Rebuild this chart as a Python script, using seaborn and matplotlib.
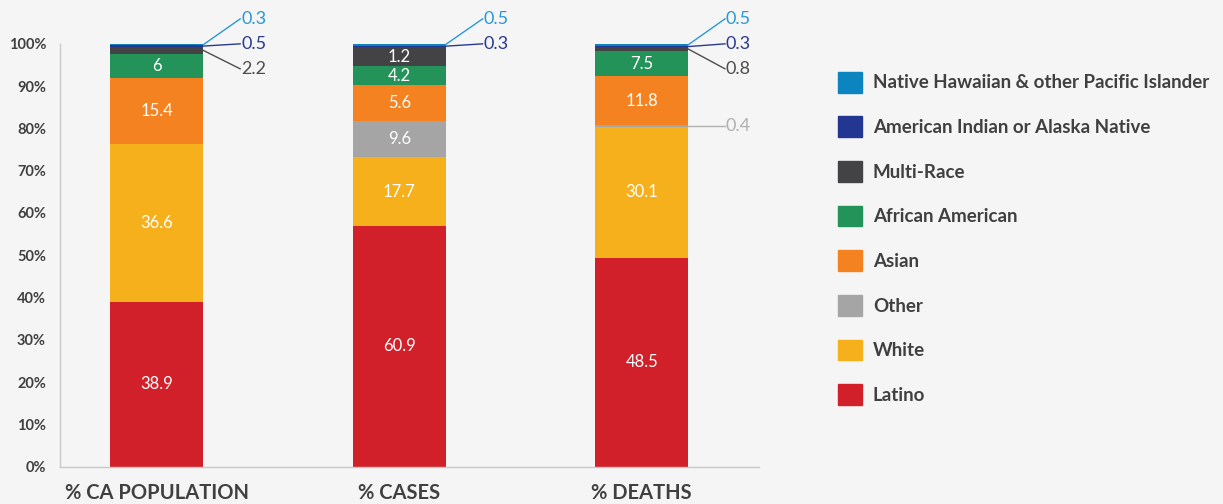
import matplotlib
matplotlib.use("Agg")
import matplotlib.pyplot as plt
import matplotlib.patches as mpatches
import seaborn as sns
import pandas as pd

# data
categories = ["% CA POPULATION", "% CASES", "% DEATHS"]
races = ["Latino", "White", "Other", "Asian", "African American", "Multi-Race",
         "American Indian or Alaska Native", "Native Hawaiian & other Pacific Islander"]

# segment heights as drawn in the reference (percent of bar)
latino = [39.0, 56.9, 49.4]
white = [37.3, 16.3, 31.0]
other = [0.0, 8.5, 0.4]
asian = [15.7, 8.5, 11.5]
african_american = [5.6, 4.5, 6.1]
multi_race = [1.7, 4.6, 0.8]
am_indian = [0.35, 0.3, 0.3]
nh_pacific = [0.3, 0.5, 0.5]

# numbers printed on the reference
latino_lbl = ["38.9", "60.9", "48.5"]
white_lbl = ["36.6", "17.7", "30.1"]
other_lbl = ["", "9.6", "0.4"]
asian_lbl = ["15.4", "5.6", "11.8"]
african_american_lbl = ["6", "4.2", "7.5"]
multi_race_lbl = ["2.2", "1.2", "0.8"]
am_indian_lbl = ["0.5", "0.3", "0.3"]
nh_pacific_lbl = ["0.3", "0.5", "0.5"]

yticks = [0, 10, 20, 30, 40, 50, 60, 70, 80, 90, 100]

colors = {
    "Latino": "#d2202b",
    "White": "#f6b01c",
    "Other": "#a5a5a5",
    "Asian": "#f58220",
    "African American": "#24935a",
    "Multi-Race": "#434345",
    "American Indian or Alaska Native": "#233691",
    "Native Hawaiian & other Pacific Islander": "#0b84c0",
}
label_colors = {
    "Native Hawaiian & other Pacific Islander": "#2a98d4",
    "American Indian or Alaska Native": "#2b3990",
    "Multi-Race": "#4d4d4d",
    "Other": "#b0b0b0",
}

df = pd.DataFrame({"category": categories, "Latino": latino, "White": white, "Other": other,
                   "Asian": asian, "African American": african_american,
                   "Multi-Race": multi_race, "American Indian or Alaska Native": am_indian,
                   "Native Hawaiian & other Pacific Islander": nh_pacific})
labels = pd.DataFrame({"Latino": latino_lbl, "White": white_lbl, "Other": other_lbl,
                       "Asian": asian_lbl, "African American": african_american_lbl,
                       "Multi-Race": multi_race_lbl,
                       "American Indian or Alaska Native": am_indian_lbl,
                       "Native Hawaiian & other Pacific Islander": nh_pacific_lbl})
cum = df[races].cumsum(axis=1)

bg = "#f5f5f5"
txt = "#404040"
plt.rcParams["font.family"] = ["Lato", "DejaVu Sans"]

fig = plt.figure(figsize=(12.23, 5.04), dpi=100, facecolor=bg)
ax = fig.add_axes([0.049, 0.074, 0.572, 0.839])
ax.set_facecolor(bg)

bar_w = 0.383
# stacked bars: draw cumulative totals from the top layer down
for race in reversed(races):
    sns.barplot(x=df["category"], y=cum[race], color=colors[race], width=bar_w,
                saturation=1, linewidth=0, ax=ax)

# callouts outside the bars: (bar index, race) -> label y in axis units
callouts = {
    (0, "Native Hawaiian & other Pacific Islander"): 105.9,
    (0, "American Indian or Alaska Native"): 100.0,
    (0, "Multi-Race"): 94.1,
    (1, "Native Hawaiian & other Pacific Islander"): 105.9,
    (1, "American Indian or Alaska Native"): 100.0,
    (2, "Native Hawaiian & other Pacific Islander"): 105.9,
    (2, "American Indian or Alaska Native"): 100.0,
    (2, "Multi-Race"): 94.1,
    (2, "Other"): None,
}
dx = 0.152
for i in range(len(categories)):
    for race in races:
        v = df.loc[i, race]
        lab = labels.loc[i, race]
        if v <= 0 or not lab:
            continue
        mid = cum.loc[i, race] - v / 2
        if (i, race) in callouts:
            ly = callouts[(i, race)]
            if ly is None:
                ly = mid
            x0 = i + bar_w / 2
            c = label_colors[race]
            ax.plot([x0, x0 + dx], [mid, ly], color=c, lw=1, clip_on=False)
            ax.text(x0 + dx + 0.004, ly, lab, color=c, fontsize=13, va="center",
                    ha="left", clip_on=False)
        else:
            ax.text(i, mid, lab, color="white", fontsize=12, ha="center", va="center")

ax.set_xlim(-0.4, 2.486)
ax.set_ylim(0, 100)
ax.set_yticks(yticks)
ax.set_yticklabels([f"{t}%" for t in yticks], fontsize=10.5, fontweight="bold", color=txt)
ax.tick_params(axis="y", length=0, pad=10)
ax.tick_params(axis="x", length=0, pad=12)
for t in ax.get_xticklabels():
    t.set_fontsize(14.5)
    t.set_fontweight("bold")
    t.set_color(txt)
ax.set_xlabel("")
ax.set_ylabel("")
for s in ["top", "right"]:
    ax.spines[s].set_visible(False)
for s in ["left", "bottom"]:
    ax.spines[s].set_color("#c8c8c8")
    ax.spines[s].set_linewidth(1)

handles = [mpatches.Patch(color=colors[r], label=r) for r in reversed(races)]
leg = fig.legend(handles=handles, loc="upper left", bbox_to_anchor=(0.671, 0.891),
                 frameon=False, fontsize=13.5, handlelength=1.33, handleheight=1.33,
                 labelspacing=1.27, handletextpad=0.55)
for t in leg.get_texts():
    t.set_fontweight("bold")
    t.set_color(txt)

fig.savefig("out.png", dpi=100, facecolor=bg)
